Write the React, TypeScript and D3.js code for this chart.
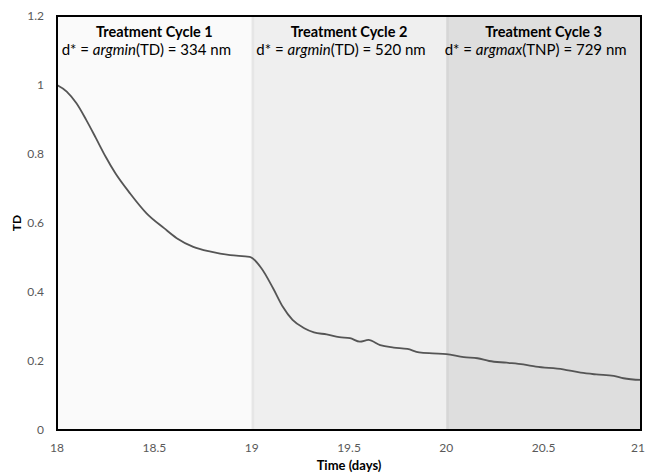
import React from "react";
import * as d3 from "d3";

// TD measured over time (days)
const timeDays = [
  18.0, 18.05, 18.1, 18.15, 18.2, 18.25, 18.3, 18.375, 18.46, 18.55, 18.615, 18.7, 18.79, 18.89, 18.99,
  19.05, 19.11, 19.16, 19.21, 19.27, 19.32, 19.385, 19.45, 19.505, 19.556, 19.6, 19.66, 19.73, 19.8, 19.86, 19.93,
  20.0, 20.09, 20.16, 20.22, 20.31, 20.395, 20.46, 20.6, 20.69, 20.77, 20.86, 20.91, 21.0,
];
const tdValues = [
  1.0, 0.981, 0.947, 0.899, 0.846, 0.792, 0.744, 0.686, 0.628, 0.585, 0.556, 0.531, 0.517, 0.507, 0.502,
  0.469, 0.411, 0.357, 0.319, 0.295, 0.283, 0.277, 0.269, 0.266, 0.256, 0.261, 0.246, 0.239, 0.235, 0.225, 0.222,
  0.22, 0.211, 0.208, 0.2, 0.195, 0.19, 0.184, 0.176, 0.166, 0.161, 0.157, 0.15, 0.145,
];

// Treatment cycles
const cycleStart = [18, 19, 20];
const cycleEnd = [19, 20, 21];
const cycleTitles = ["Treatment Cycle 1", "Treatment Cycle 2", "Treatment Cycle 3"];
const cycleFn = ["argmin", "argmin", "argmax"];
const cycleArg = ["TD", "TD", "TNP"];
const cycleNm = [334, 520, 729];
const cycleFill = ["#fafafa", "#efefef", "#dedede"];
const cycleEdge = ["#fafafa", "#e6e6e6", "#d6d6d6"];

const xTicks = [18, 18.5, 19, 19.5, 20, 20.5, 21];
const yTicks = [0, 0.2, 0.4, 0.6, 0.8, 1, 1.2];

const W = 646;
const H = 475;
const M = { left: 57, right: 5, top: 16, bottom: 45 };
const FONT = "Lato, 'Open Sans', 'Liberation Sans', sans-serif";

export default function App() {
  const x = d3.scaleLinear().domain([18, 21]).range([M.left, W - M.right]);
  const y = d3.scaleLinear().domain([0, 1.2]).range([H - M.bottom, M.top]);
  const line = d3
    .line<number>()
    .x((_, i) => x(timeDays[i]))
    .y((d) => y(d))
    .curve(d3.curveMonotoneX);

  const plotW = x(21) - x(18);
  const plotH = y(0) - y(1.2);

  return (
    <svg
      width={W}
      height={H}
      style={{ position: "absolute", left: 0, top: 0, background: "#fff" }}
      fontFamily={FONT}
    >
      {cycleStart.map((s, i) => (
        <g key={"bg" + i}>
          <rect x={x(s)} y={y(1.2)} width={x(cycleEnd[i]) - x(s)} height={plotH} fill={cycleFill[i]} />
          <rect x={x(s)} y={y(1.2)} width={2.5} height={plotH} fill={cycleEdge[i]} />
        </g>
      ))}

      {cycleStart.map((s, i) => {
        const cx = (x(s) + x(cycleEnd[i])) / 2;
        return (
          <g key={"lbl" + i}>
            <text x={cx} y={y(1.2) + 21} textAnchor="middle" fontSize={14.5} fontWeight="bold" fill="#000">
              {cycleTitles[i]}
            </text>
            <text x={cx - 8} y={y(1.2) + 39} textAnchor="middle" fontSize={15} fill="#000">
              {"d* = "}
              <tspan fontStyle="italic">{cycleFn[i]}</tspan>
              {`(${cycleArg[i]}) = ${cycleNm[i]} nm`}
            </text>
          </g>
        );
      })}

      <path d={line(tdValues) ?? ""} fill="none" stroke="#555" strokeWidth={1.8} />

      <rect x={x(18)} y={y(1.2)} width={plotW} height={plotH} fill="none" stroke="#000" strokeWidth={2} />

      {yTicks.map((t) => (
        <text key={"y" + t} x={44} y={y(t) + 4} textAnchor="end" fontSize={12} fill="#595959">
          {d3.format("~g")(t)}
        </text>
      ))}
      {xTicks.map((t, i) => {
        const last = i === xTicks.length - 1;
        return (
          <text
            key={"x" + t}
            x={last ? W - 1 : x(t)}
            y={452}
            textAnchor={last ? "end" : "middle"}
            fontSize={12}
            fill="#595959"
          >
            {d3.format("~g")(t)}
          </text>
        );
      })}

      <text x={(x(18) + x(21)) / 2} y={470} textAnchor="middle" fontSize={13} fontWeight="bold" fill="#000">
        Time (days)
      </text>
      <text
        transform={`translate(21, ${(y(0) + y(1.2)) / 2}) rotate(-90)`}
        textAnchor="middle"
        fontSize={12}
        fontWeight="bold"
        fill="#000"
      >
        TD
      </text>
    </svg>
  );
}
